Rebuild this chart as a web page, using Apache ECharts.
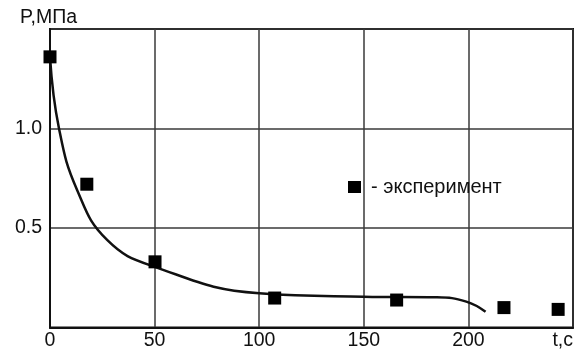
<!DOCTYPE html>
<html>
<head>
<meta charset="utf-8">
<script src="https://cdn.jsdelivr.net/npm/echarts@6/dist/echarts.min.js"></script>
<style>
  html, body { margin: 0; padding: 0; background: #fff; }
  #chart { width: 584px; height: 351px; }
</style>
</head>
<body>
<div id="chart"></div>
<script>
// Pressure decay: fitted curve and experimental points
const curveT = [0, 4.3, 13, 27.3, 50, 100, 150, 185, 199, 208.2];
const curveP = [1.36, 1.0, 0.69, 0.44, 0.305, 0.172, 0.155, 0.152, 0.13, 0.079];

const expT = [0, 17.6, 50.2, 107.4, 165.7, 217, 242.9];
const expP = [1.36, 0.72, 0.33, 0.148, 0.138, 0.10, 0.091];

const xTicks = [0, 50, 100, 150, 200];
const yTicks = [0.5, 1.0];

const FONT = '"Liberation Sans", Arial, sans-serif';
const FS = 19.5;
const INK = '#111';

const chart = echarts.init(document.getElementById('chart'), null, { renderer: 'canvas' });

chart.setOption({
  animation: false,
  backgroundColor: '#fff',
  title: {
    text: 'P,МПа',
    left: 15,
    top: 3,
    textStyle: { fontFamily: FONT, fontSize: FS, fontWeight: 'normal', color: INK }
  },
  legend: {
    left: 343,
    top: 172,
    itemWidth: 13,
    itemHeight: 12,
    data: [{ name: '- эксперимент', icon: 'rect', itemStyle: { color: '#000', opacity: 1 } }],
    textStyle: { fontFamily: FONT, fontSize: 20, color: INK, padding: [0, 0, 0, 5] }
  },
  grid: {
    left: 50, right: 11, top: 29, bottom: 23.5,
    show: true, borderColor: INK, borderWidth: 2, backgroundColor: '#fff'
  },
  xAxis: {
    type: 'value',
    min: 0, max: 250, interval: 50,
    name: 't,c',
    nameLocation: 'end',
    nameGap: 0,
    nameTextStyle: {
      fontFamily: FONT, fontSize: FS, color: INK,
      align: 'right', verticalAlign: 'top', padding: [3, 0, 0, 0]
    },
    axisLine: { show: true, lineStyle: { color: INK, width: 2 } },
    axisTick: { show: false },
    axisLabel: {
      fontFamily: FONT, fontSize: FS, color: INK, margin: 3,
      formatter: v => (xTicks.includes(v) ? String(v) : '')
    },
    splitLine: { show: true, lineStyle: { color: '#3a3a3a', width: 1.5 } }
  },
  yAxis: {
    type: 'value',
    min: 0, max: 1.5, interval: 0.5,
    axisLine: { show: true, lineStyle: { color: INK, width: 2 } },
    axisTick: { show: false },
    axisLabel: {
      fontFamily: FONT, fontSize: FS, color: INK, margin: 8,
      formatter: v => {
        const hit = yTicks.find(t => Math.abs(t - v) < 1e-9);
        return hit === undefined ? '' : hit.toFixed(1);
      }
    },
    splitLine: { show: true, lineStyle: { color: '#3a3a3a', width: 1.5 } }
  },
  series: [
    {
      name: 'расчёт',
      type: 'line',
      data: curveT.map((t, i) => [t, curveP[i]]),
      smooth: 0.45,
      showSymbol: false,
      lineStyle: { color: INK, width: 2.5 },
      z: 3
    },
    {
      name: '- эксперимент',
      type: 'scatter',
      data: expT.map((t, i) => [t, expP[i]]),
      symbol: 'rect',
      symbolSize: 13,
      itemStyle: { color: '#000', opacity: 1 },
      z: 4
    }
  ]
});
</script>
</body>
</html>
